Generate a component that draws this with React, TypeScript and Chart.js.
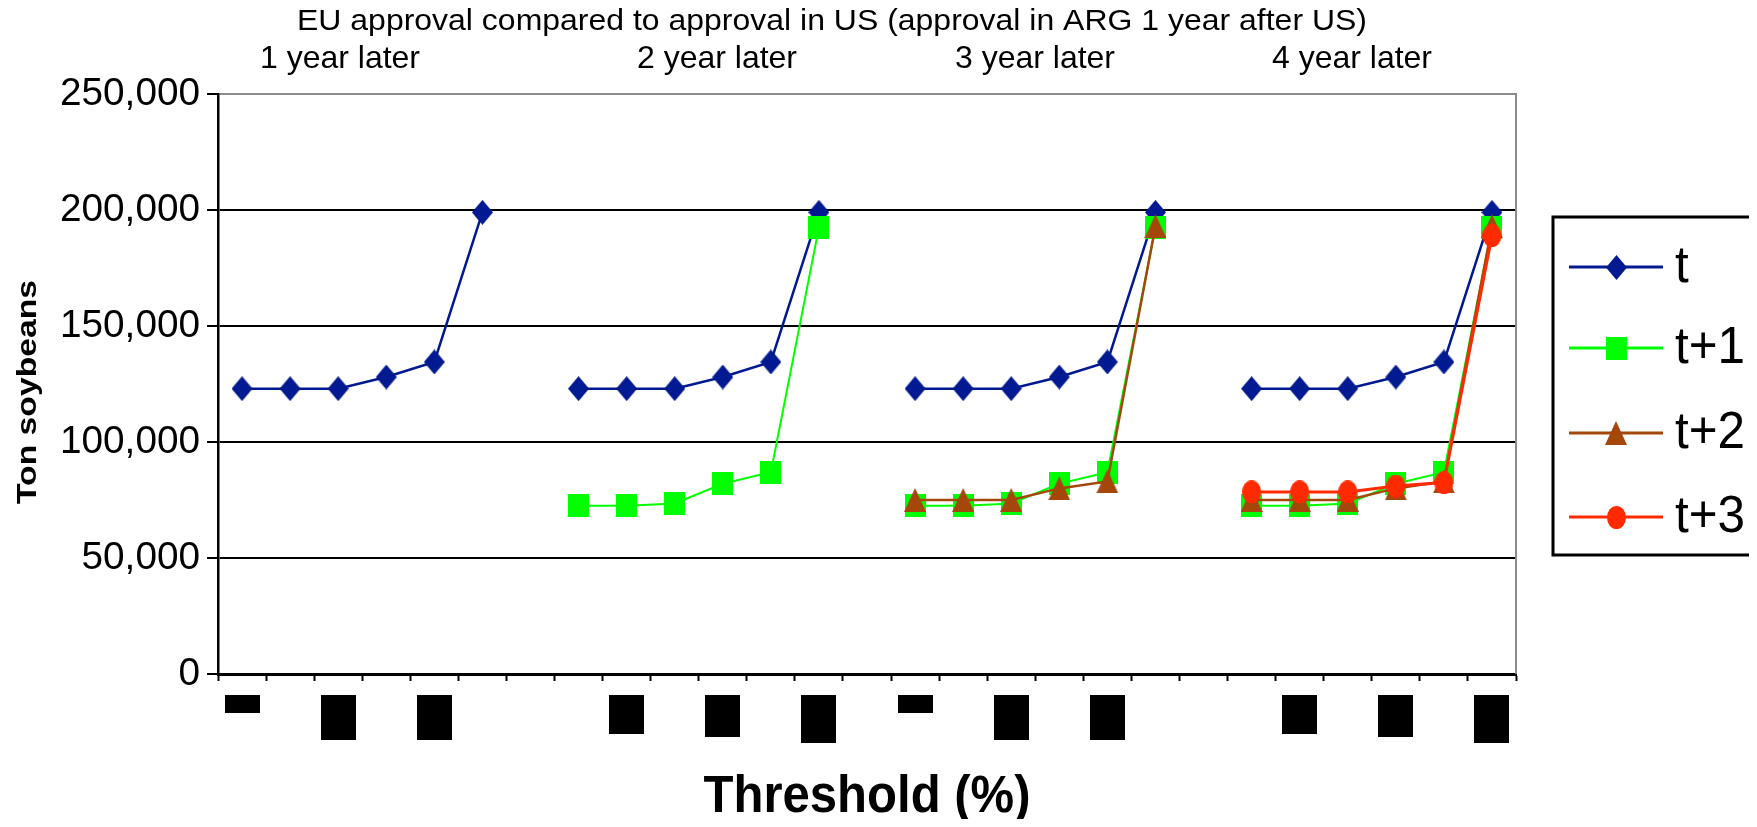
import React, { useEffect, useRef } from "react";
import { Chart, registerables } from "chart.js";

Chart.register(...registerables);

// ---------- data ----------
const titleText = "EU approval compared to approval in US (approval in ARG 1 year after US)";
const groupTitles = ["1 year later", "2 year later", "3 year later", "4 year later"];
const yTickValues = [0, 50000, 100000, 150000, 200000, 250000];
const yTickLabels = ["0", "50,000", "100,000", "150,000", "200,000", "250,000"];
const yAxisTitle = "Ton soybeans";
const xAxisTitle = "Threshold (%)";

// 4 groups of 6 thresholds, separated by an empty category
const categories = [
  "1y-1", "1y-2", "1y-3", "1y-4", "1y-5", "1y-6", "gap1",
  "2y-1", "2y-2", "2y-3", "2y-4", "2y-5", "2y-6", "gap2",
  "3y-1", "3y-2", "3y-3", "3y-4", "3y-5", "3y-6", "gap3",
  "4y-1", "4y-2", "4y-3", "4y-4", "4y-5", "4y-6",
];

const seriesNames = ["t", "t+1", "t+2", "t+3"];
const seriesT = [
  123000, 123000, 123000, 128000, 134500, 199000, null,
  123000, 123000, 123000, 128000, 134500, 199000, null,
  123000, 123000, 123000, 128000, 134500, 199000, null,
  123000, 123000, 123000, 128000, 134500, 199000,
];
const seriesT1 = [
  null, null, null, null, null, null, null,
  72500, 72500, 73500, 82000, 87000, 192500, null,
  72500, 72500, 73500, 82000, 87000, 192500, null,
  72500, 72500, 73500, 82000, 87000, 192500,
];
const seriesT2 = [
  null, null, null, null, null, null, null,
  null, null, null, null, null, null, null,
  75000, 75000, 75000, 80000, 83000, 193000, null,
  75000, 75000, 75000, 80000, 83000, 193000,
];
const seriesT3 = [
  null, null, null, null, null, null, null,
  null, null, null, null, null, null, null,
  null, null, null, null, null, null, null,
  78500, 78500, 78500, 81000, 82500, 189000,
];

// tick labels of the threshold axis appear blacked out in the source: length of each black bar
const blackedLabelLength = [
  18, 0, 45, 0, 45, 0, 0,
  0, 39, 0, 42, 0, 48, 0,
  18, 0, 45, 0, 45, 0, 0,
  0, 39, 0, 42, 0, 48,
];

// ---------- styles ----------
const COLORS = ["#021A91", "#00FF00", "#A5460A", "#FF2A00"];
const LINE_WIDTHS = [2.5, 2, 2.5, 3];
const FONT = "'Liberation Sans', Arial, sans-serif";

function makeMarker(shape: string, w: number, h: number, color: string) {
  const c = document.createElement("canvas");
  c.width = w;
  c.height = h;
  const g = c.getContext("2d")!;
  g.fillStyle = color;
  g.beginPath();
  if (shape === "diamond") {
    g.moveTo(w / 2, 0);
    g.lineTo(w, h / 2);
    g.lineTo(w / 2, h);
    g.lineTo(0, h / 2);
    g.closePath();
  } else if (shape === "square") {
    g.rect(0, 0, w, h);
  } else if (shape === "triangle") {
    g.moveTo(w / 2, 0);
    g.lineTo(w, h);
    g.lineTo(0, h);
    g.closePath();
  } else {
    g.ellipse(w / 2, h / 2, w / 2, h / 2, 0, 0, Math.PI * 2);
  }
  g.fill();
  return c;
}

function drawText(
  ctx: CanvasRenderingContext2D,
  text: string,
  x: number,
  y: number,
  size: number,
  opts: { bold?: boolean; align?: CanvasTextAlign; width?: number; sx?: number; rotate?: number } = {}
) {
  ctx.save();
  ctx.font = `${opts.bold ? "bold " : ""}${size}px ${FONT}`;
  const natural = ctx.measureText(text).width;
  const sx = opts.width ? opts.width / natural : opts.sx ?? 1;
  ctx.translate(x, y);
  if (opts.rotate) ctx.rotate(opts.rotate);
  ctx.scale(sx, 1);
  ctx.textAlign = opts.align ?? "center";
  ctx.textBaseline = "middle";
  ctx.fillStyle = "#000";
  ctx.fillText(text, 0, 0);
  ctx.restore();
}

const CANVAS_W = 1741;
const CANVAS_H = 819;

export default function App() {
  const ref = useRef<HTMLCanvasElement | null>(null);

  useEffect(() => {
    const canvas = ref.current;
    if (!canvas) return;

    const markers = [
      makeMarker("diamond", 21, 25, COLORS[0]),
      makeMarker("square", 21, 23, COLORS[1]),
      makeMarker("triangle", 22, 24, COLORS[2]),
      makeMarker("circle", 19, 23, COLORS[3]),
    ];
    const seriesData = [seriesT, seriesT1, seriesT2, seriesT3];

    const decorations = {
      id: "decorations",
      afterDraw(chart: any) {
        const ctx: CanvasRenderingContext2D = chart.ctx;
        const area = chart.chartArea;
        const xs = chart.scales.x;
        const ys = chart.scales.y;

        // right border of plot area
        ctx.save();
        ctx.strokeStyle = "#8C8C8C";
        ctx.lineWidth = 2;
        ctx.beginPath();
        ctx.moveTo(area.right, area.top - 1);
        ctx.lineTo(area.right, area.bottom);
        ctx.stroke();
        ctx.restore();

        // blacked-out threshold tick labels
        ctx.save();
        ctx.fillStyle = "#000";
        blackedLabelLength.forEach((len, i) => {
          if (!len) return;
          const cx = xs.getPixelForValue(i);
          ctx.fillRect(Math.round(cx - 17.5), area.bottom + 21, 35, len);
        });
        ctx.restore();

        // y tick labels (same horizontal squeeze for all)
        ctx.save();
        ctx.font = `38px ${FONT}`;
        const ySx = 140 / ctx.measureText("250,000").width;
        ctx.restore();
        yTickValues.forEach((v, i) => {
          drawText(ctx, yTickLabels[i], 192, ys.getPixelForValue(v) + 1, 38, { align: "right", sx: ySx });
        });

        // titles
        drawText(ctx, titleText, 824, 14, 29, { width: 1070 });
        const groupCenters = [332, 709, 1027, 1344];
        groupTitles.forEach((t, i) => drawText(ctx, t, groupCenters[i], 51, 32, { width: 160 }));
        drawText(ctx, yAxisTitle, 21, 384, 27, { bold: true, width: 224, rotate: -Math.PI / 2 });
        drawText(ctx, xAxisTitle, 859, 790, 51, { bold: true, width: 327 });

        // legend
        ctx.save();
        ctx.strokeStyle = "#000";
        ctx.lineWidth = 3;
        ctx.strokeRect(1545, 209, 260, 338);
        const rows = [259, 340, 425, 509];
        seriesNames.forEach((name, i) => {
          const y = rows[i];
          ctx.strokeStyle = COLORS[i];
          ctx.lineWidth = 3;
          ctx.beginPath();
          ctx.moveTo(1561, y);
          ctx.lineTo(1655, y);
          ctx.stroke();
          const m = markers[i];
          ctx.drawImage(m, Math.round(1608 - m.width / 2), Math.round(y - m.height / 2));
          drawText(ctx, name, 1667, y + 1, 52, { align: "left", sx: 0.95 });
        });
        ctx.restore();
      },
    };

    const chart = new Chart(canvas, {
      type: "line",
      data: {
        labels: categories,
        datasets: seriesNames.map((name, i) => ({
          label: name,
          data: seriesData[i],
          borderColor: COLORS[i],
          backgroundColor: COLORS[i],
          borderWidth: LINE_WIDTHS[i],
          pointStyle: markers[i] as any,
          pointRadius: 11,
          pointHoverRadius: 11,
          tension: 0,
          spanGaps: false,
          fill: false,
          order: 4 - i,
        })),
      },
      options: {
        responsive: false,
        animation: false,
        events: [],
        layout: { padding: { top: 86, right: 233, left: 0, bottom: 0 } },
        plugins: {
          legend: { display: false },
          title: { display: false },
          tooltip: { enabled: false },
        },
        scales: {
          x: {
            type: "category",
            offset: true,
            afterFit: (s: any) => {
              s.height = 153;
            },
            grid: {
              offset: true,
              drawOnChartArea: false,
              drawTicks: true,
              tickLength: 7,
              tickColor: "#000",
              tickWidth: 2,
            },
            border: { display: true, color: "#000", width: 3 },
            ticks: { display: false, autoSkip: false },
          },
          y: {
            min: 0,
            max: 250000,
            afterFit: (s: any) => {
              s.width = 210;
            },
            afterBuildTicks: (s: any) => {
              s.ticks = yTickValues.map((v) => ({ value: v }));
            },
            grid: {
              color: (c: any) => (c.tick && c.tick.value === 250000 ? "#8C8C8C" : "#000"),
              lineWidth: 2,
              drawTicks: true,
              tickLength: 11,
              tickColor: "#000",
              tickWidth: 2,
            },
            border: { display: true, color: "#000", width: 2.5 },
            ticks: { display: false },
          },
        },
      },
      plugins: [decorations],
    });

    return () => chart.destroy();
  }, []);

  return (
    <div style={{ width: CANVAS_W, height: CANVAS_H - 8 }}>
      <canvas ref={ref} width={CANVAS_W} height={CANVAS_H} style={{ display: "block" }} />
    </div>
  );
}
